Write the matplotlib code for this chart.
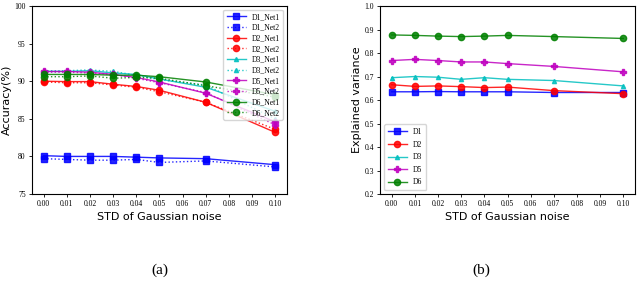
import numpy as np
import matplotlib
matplotlib.use('Agg')
import matplotlib.pyplot as plt

# noise levels used in both panels
noise = [0.00, 0.01, 0.02, 0.03, 0.04, 0.05, 0.07, 0.10]
xticks = [0.00, 0.01, 0.02, 0.03, 0.04, 0.05, 0.06, 0.07, 0.08, 0.09, 0.10]

# (a) accuracy
d1_net1 = [80.1, 80.0, 80.0, 80.0, 79.9, 79.8, 79.7, 78.9]
d1_net2 = [79.7, 79.6, 79.5, 79.5, 79.6, 79.2, 79.4, 78.6]
d2_net1 = [90.0, 89.95, 89.95, 89.6, 89.3, 88.8, 87.2, 83.2]
d2_net2 = [89.9, 89.8, 89.8, 89.5, 89.2, 88.6, 87.2, 83.6]
d3_net1 = [91.3, 91.3, 91.4, 91.1, 90.9, 90.3, 89.2, 86.0]
d3_net2 = [91.4, 91.4, 91.5, 91.3, 90.8, 90.2, 89.5, 85.0]
d5_net1 = [91.3, 91.3, 91.2, 90.9, 90.5, 89.9, 88.4, 84.6]
d5_net2 = [91.2, 91.2, 91.1, 90.9, 90.4, 89.8, 88.5, 84.2]
d6_net1 = [90.9, 90.9, 90.9, 90.8, 90.8, 90.6, 89.9, 88.2]
d6_net2 = [90.6, 90.6, 90.7, 90.4, 90.5, 90.4, 89.4, 87.9]

# (b) explained variance
ev_d1 = [0.635, 0.635, 0.636, 0.635, 0.635, 0.635, 0.632, 0.632]
ev_d2 = [0.665, 0.658, 0.660, 0.657, 0.653, 0.655, 0.640, 0.627]
ev_d3 = [0.695, 0.700, 0.697, 0.688, 0.695, 0.688, 0.683, 0.660]
ev_d5 = [0.768, 0.773, 0.768, 0.762, 0.762, 0.755, 0.743, 0.720]
ev_d6 = [0.877, 0.875, 0.872, 0.870, 0.872, 0.875, 0.870, 0.862]

serif = 'Liberation Serif'

fig = plt.figure(figsize=(6.4, 2.87), dpi=100)
ax1 = fig.add_axes([0.05, 0.324, 0.398, 0.655])
ax2 = fig.add_axes([0.594, 0.324, 0.398, 0.655])

styles = [('b', 's'), ('r', 'o'), ('c', '^'), ('m', 'P'), ('g', 'o')]
acc = [(d1_net1, d1_net2, 'D1'), (d2_net1, d2_net2, 'D2'), (d3_net1, d3_net2, 'D3'),
       (d5_net1, d5_net2, 'D5'), (d6_net1, d6_net2, 'D6')]
for (c, m), (n1, n2, name) in zip(styles, acc):
    ms = 3 if m == '^' else 4.5
    ax1.plot(noise, n1, color=c, marker=m, ms=ms, lw=1.0, alpha=0.85, label=f'{name}_Net1')
    ax1.plot(noise, n2, color=c, marker=m, ms=ms, lw=1.0, ls=':', alpha=0.85, label=f'{name}_Net2')

ax1.set_ylim(75, 100)
ax1.set_yticks([75, 80, 85, 90, 95, 100])
ax1.set_ylabel('Accuracy(%)', fontsize=8, labelpad=2)

evs = [(ev_d1, 'D1'), (ev_d2, 'D2'), (ev_d3, 'D3'), (ev_d5, 'D5'), (ev_d6, 'D6')]
for (c, m), (vals, name) in zip(styles, evs):
    ms = 3 if m == '^' else 4.5
    ax2.plot(noise, vals, color=c, marker=m, ms=ms, lw=1.0, alpha=0.85, label=name)

ax2.set_ylim(0.2, 1.0)
ax2.set_yticks([0.2, 0.3, 0.4, 0.5, 0.6, 0.7, 0.8, 0.9, 1.0])
ax2.set_ylabel('Explained variance', fontsize=8, labelpad=2)

for ax in (ax1, ax2):
    ax.set_xticks(xticks)
    ax.set_xticklabels([f'{v:.2f}' for v in xticks])
    ax.set_xlim(-0.005, 0.105)
    ax.set_xlabel('STD of Gaussian noise', fontsize=8, labelpad=3)
    ax.tick_params(labelsize=5.5, length=2.5, width=0.6, pad=2)
    for lbl in ax.get_xticklabels() + ax.get_yticklabels():
        lbl.set_fontfamily(serif)
    for sp in ax.spines.values():
        sp.set_linewidth(0.8)

ax2.set_yticklabels([f'{v:.1f}' for v in ax2.get_yticks()])
for lbl in ax2.get_yticklabels():
    lbl.set_fontfamily(serif)

ax1.legend(loc='upper right', prop={'family': serif, 'size': 5.5},
           handlelength=2.5, labelspacing=0.35, borderpad=0.4, framealpha=0.8)
ax2.legend(loc='lower left', prop={'family': serif, 'size': 5.5},
           handlelength=2.5, labelspacing=0.6, borderpad=0.5)

fig.text(0.25, 0.06, '(a)', ha='center', va='center', fontsize=11, family=serif)
fig.text(0.752, 0.06, '(b)', ha='center', va='center', fontsize=11, family=serif)

fig.savefig('out.png', dpi=100)
